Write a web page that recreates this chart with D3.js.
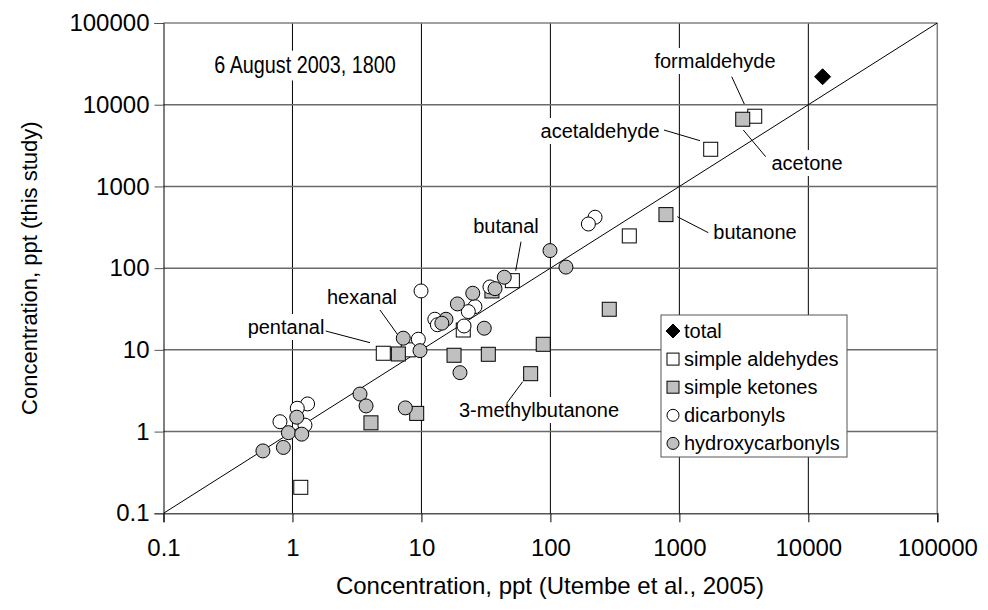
<!DOCTYPE html>
<html>
<head>
<meta charset="utf-8">
<script src="https://cdn.jsdelivr.net/npm/d3@7"></script>
<style>
body { margin: 0; background: #fff; }
svg text { font-family: "Liberation Sans", Arial, Helvetica, sans-serif; fill: #000; }
</style>
</head>
<body>
<svg id="chart"></svg>
<script>
const W = 988, H = 610;
const svg = d3.select("#chart").attr("width", W).attr("height", H);

// values, [Utembe 2005, this study] in ppt
const total = [[12900, 22000]];
const aldehydes = [[3840, 7230], [1750, 2850], [409, 248], [50.7, 70.3], [21.1, 17.5],
  [5.06, 9.09], [7.9, 10.0], [1.16, 0.208]];
const ketones = [[3100, 6640], [787, 452], [286, 31.4], [88, 11.7], [70.3, 5.11], [33, 8.83],
  [17.9, 8.59], [6.62, 8.91], [9.19, 1.67], [4.06, 1.28], [35.2, 52.6]];
const dicarbonyls = [[222, 420], [197, 347], [9.93, 52.6], [12.7, 23.7], [13.3, 20.3], [26, 33.8],
  [23.1, 29.4], [21.4, 19.6], [34, 58.9], [9.46, 13.5], [1.31, 2.18], [1.09, 1.93], [0.80, 1.32], [1.25, 1.2]];
const hydroxy = [[15.5, 23.7], [14.4, 21.2], [25, 49.3], [19, 36.5], [30.7, 18.4], [37.2, 56.1],
  [43.9, 77.4], [99.3, 164], [132, 103], [19.9, 5.26], [7.23, 13.9], [9.75, 9.78], [1.08, 1.5],
  [0.93, 0.97], [1.18, 0.93], [0.85, 0.64], [0.59, 0.58], [3.34, 2.88], [3.72, 2.06], [7.5, 1.95]];
const tickValues = [0.1, 1, 10, 100, 1000, 10000, 100000];
const tickLabels = ["0.1", "1", "10", "100", "1000", "10000", "100000"];

const series = [
  {name: "total", data: total, shape: "diamond", fill: "#000"},
  {name: "simple aldehydes", data: aldehydes, shape: "square", fill: "#fff"},
  {name: "simple ketones", data: ketones, shape: "square", fill: "#c0c0c0"},
  {name: "dicarbonyls", data: dicarbonyls, shape: "circle", fill: "#fff"},
  {name: "hydroxycarbonyls", data: hydroxy, shape: "circle", fill: "#c0c0c0"}
];

const pL = 163.5, pR = 937.3, pT = 23, pB = 513.3;
const x = d3.scaleLog().domain([0.1, 100000]).range([pL, pR]);
const y = d3.scaleLog().domain([0.1, 100000]).range([pB, pT]);

// gridlines
const grid = svg.append("g");
grid.selectAll(".vg").data(tickValues.slice(1, -1)).enter().append("line")
  .attr("x1", d => x(d)).attr("x2", d => x(d))
  .attr("y1", pT).attr("y2", pB)
  .attr("stroke", "#000").attr("stroke-width", 1);
grid.selectAll(".hg").data(tickValues.slice(1, -1)).enter().append("line")
  .attr("x1", pL).attr("x2", pR)
  .attr("y1", d => y(d)).attr("y2", d => y(d))
  .attr("stroke", "#6a6a6a").attr("stroke-width", 1.5);
// frame: top/right grey
svg.append("line").attr("x1", pL).attr("x2", pR).attr("y1", pT).attr("y2", pT)
  .attr("stroke", "#808080").attr("stroke-width", 1.5);
svg.append("line").attr("x1", pR).attr("x2", pR).attr("y1", pT).attr("y2", pB)
  .attr("stroke", "#808080").attr("stroke-width", 1.5);

// 1:1 line
svg.append("line")
  .attr("x1", x(0.1)).attr("y1", y(0.1)).attr("x2", x(100000)).attr("y2", y(100000))
  .attr("stroke", "#000").attr("stroke-width", 1);

// axes
const xAxis = d3.axisBottom(x).tickValues(tickValues).tickSize(9).tickPadding(17)
  .tickFormat((d, i) => tickLabels[i]);
const gx = svg.append("g").attr("transform", `translate(0,${pB})`).call(xAxis);
gx.select(".domain").attr("stroke", "#555").attr("stroke-width", 1.5);
gx.selectAll(".tick line").attr("stroke", "#000");
gx.selectAll("text").style("font-size", "24px");

const yAxis = d3.axisLeft(y).tickValues(tickValues).tickSize(9).tickPadding(5)
  .tickFormat((d, i) => tickLabels[i]);
const gy = svg.append("g").attr("transform", `translate(${pL},0)`).call(yAxis);
gy.select(".domain").attr("stroke", "#000").attr("stroke-width", 1);
gy.selectAll(".tick line").attr("stroke", "#555");
gy.selectAll("text").style("font-size", "24px");

svg.append("text").attr("x", 550).attr("y", 594)
  .attr("text-anchor", "middle").style("font-size", "24px")
  .text("Concentration, ppt (Utembe et al., 2005)");
svg.append("text").attr("transform", `translate(37,${(pT + pB) / 2}) rotate(-90)`)
  .attr("text-anchor", "middle").style("font-size", "22px")
  .text("Concentration, ppt (this study)");

// annotations: text centre and leader line (pixels)
const notes = [
  {t: "6 August 2003, 1800", cx: 305, cy: 65, line: null},
  {t: "formaldehyde", cx: 715, cy: 61, line: [731.7, 76.7, 744.3, 104]},
  {t: "acetaldehyde", cx: 600, cy: 131, line: [664, 130, 700, 140.7]},
  {t: "acetone", cx: 807, cy: 163, line: [743.3, 130, 765.7, 156.7]},
  {t: "butanone", cx: 755, cy: 232, line: [677.3, 216.7, 708.3, 232.7]},
  {t: "butanal", cx: 506, cy: 226, line: [521, 241.7, 515.7, 270.7]},
  {t: "hexanal", cx: 362, cy: 297, line: [380, 310, 402.7, 341.7]},
  {t: "pentanal", cx: 286, cy: 327, line: [325.7, 331, 370, 342.7]},
  {t: "3-methylbutanone", cx: 539, cy: 410, line: [506.7, 403.3, 522.7, 381.7]}
];
const ng = svg.append("g");
notes.forEach((n, i) => {
  const g = ng.append("g");
  // the date heading is drawn a little taller and narrower, as in the reference
  const txt = g.append("text").attr("dy", "0.35em").attr("text-anchor", "middle")
    .style("font-size", i === 0 ? "22px" : "20px").text(n.t)
    .attr("transform", i === 0 ? `translate(${n.cx},${n.cy}) scale(0.9,1.05)` : `translate(${n.cx},${n.cy})`);
  const bb = txt.node().getBBox();
  const sx = i === 0 ? 0.9 : 1, sy = i === 0 ? 1.05 : 1;
  g.insert("rect", "text").attr("x", n.cx + bb.x * sx - 3).attr("y", n.cy + bb.y * sy - 2)
    .attr("width", bb.width * sx + 6).attr("height", bb.height * sy + 4).attr("fill", "#fff");
  if (n.line) {
    svg.append("line").attr("x1", n.line[0]).attr("y1", n.line[1])
      .attr("x2", n.line[2]).attr("y2", n.line[3]).attr("stroke", "#000").attr("stroke-width", 1);
  }
});

function drawMarker(sel, shape, size) {
  if (shape === "circle") return sel.append("circle").attr("r", size / 2);
  if (shape === "square") return sel.append("rect").attr("x", -size / 2).attr("y", -size / 2)
    .attr("width", size).attr("height", size);
  return sel.append("path").attr("d", `M0,${-size / 2 - 1}L${size / 2 + 1},0L0,${size / 2 + 1}L${-size / 2 - 1},0Z`);
}

// points
series.forEach(s => {
  const g = svg.append("g");
  s.data.forEach(d => {
    const m = g.append("g").attr("transform", `translate(${x(d[0])},${y(d[1])})`);
    drawMarker(m, s.shape, 14).attr("fill", s.fill).attr("stroke", "#000").attr("stroke-width", 1);
  });
});

// legend
const lg = svg.append("g").attr("transform", "translate(661,315)");
lg.append("rect").attr("width", 186).attr("height", 142)
  .attr("fill", "#fff").attr("stroke", "#555").attr("stroke-width", 1);
series.forEach((s, i) => {
  const row = lg.append("g").attr("transform", `translate(12,${16 + i * 28.1})`);
  drawMarker(row, s.shape, 12).attr("fill", s.fill).attr("stroke", "#000").attr("stroke-width", 1);
  row.append("text").attr("x", 11).attr("dy", "0.35em").style("font-size", "20px").text(s.name);
});
</script>
</body>
</html>
